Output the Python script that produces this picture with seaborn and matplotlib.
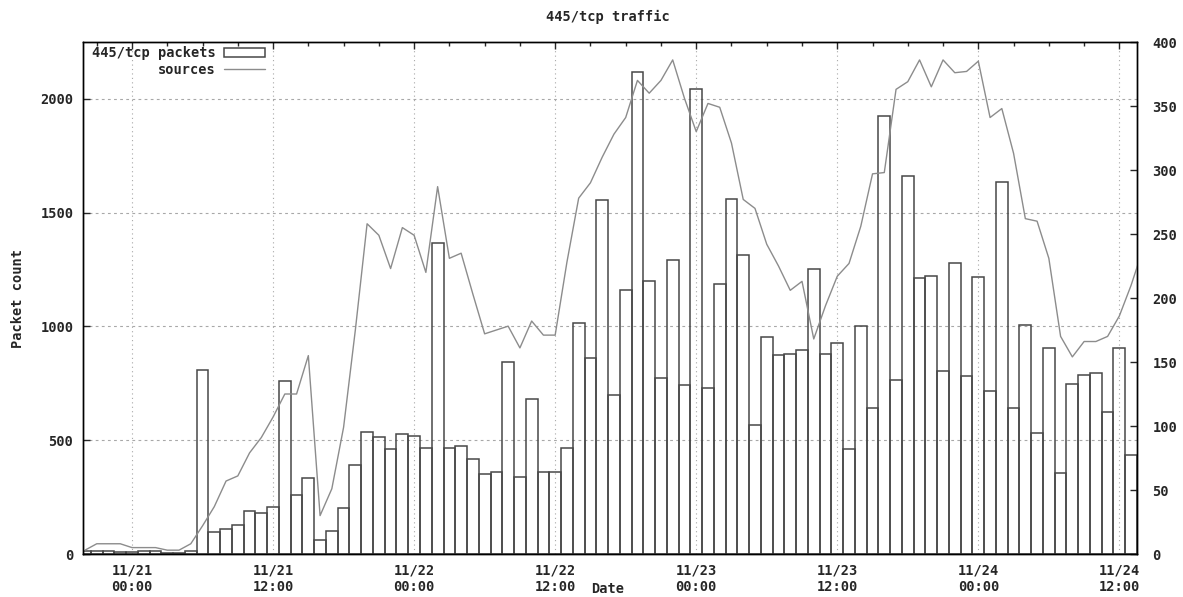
import matplotlib
matplotlib.use("Agg")
import matplotlib.pyplot as plt
from matplotlib.patches import Patch
from matplotlib.lines import Line2D
from matplotlib.ticker import MultipleLocator
import seaborn as sns

# Hours counted from 11/21 00:00
packet_hours = list(range(-4, 86))
packets = [15, 15, 15, 10, 10, 15, 15, 5, 5, 15,
           809, 95, 108, 127, 187, 182, 206, 762, 259, 333,
           63, 103, 203, 389, 536, 514, 463, 527, 520, 468,
           1365, 468, 473, 416, 352, 362, 844, 338, 682, 362,
           359, 468, 1016, 860, 1555, 698, 1158, 2116, 1198, 773,
           1293, 741, 2044, 730, 1187, 1558, 1314, 568, 952, 873,
           881, 897, 1251, 881, 928, 463, 1000, 640, 1923, 765,
           1662, 1214, 1222, 806, 1281, 781, 1219, 717, 1635, 643,
           1008, 532, 905, 357, 749, 786, 797, 624, 905, 436]

source_hours = list(range(-4, 87))
sources = [3, 8, 8, 8, 5, 5, 5, 3, 3, 8,
           22, 37, 57, 61, 79, 91, 107, 125, 125, 155,
           30, 51, 99, 175, 258, 249, 223, 255, 249, 220,
           287, 231, 235, 203, 172, 175, 178, 161, 182, 171,
           171, 228, 278, 290, 310, 328, 341, 370, 360, 370,
           386, 356, 330, 352, 349, 321, 277, 270, 242, 225,
           206, 213, 168, 194, 217, 227, 256, 297, 298, 363,
           369, 386, 365, 386, 376, 377, 385, 341, 348, 313,
           262, 260, 231, 170, 154, 166, 166, 170, 186, 210, 238]

tick_hours = [0, 12, 24, 36, 48, 60, 72, 84]
tick_labels = ["11/21\n00:00", "11/21\n12:00", "11/22\n00:00", "11/22\n12:00",
               "11/23\n00:00", "11/23\n12:00", "11/24\n00:00", "11/24\n12:00"]

sns.set_style("white")
plt.rcParams["font.family"] = ["DejaVu Sans Mono"]
plt.rcParams["font.weight"] = "bold"
plt.rcParams["font.size"] = 9.8

bar_color = "#484848"
line_color = "#8c8c8c"
grid_color = "#a8a8a8"

W, H = 1183, 597
fig = plt.figure(figsize=(W / 100, H / 100), dpi=100)
left, right, top, bottom = 83, 1137, 42, 554
ax = fig.add_axes([left / W, 1 - bottom / H, (right - left) / W, (bottom - top) / H])

sns.histplot(x=packet_hours, weights=packets, discrete=True, fill=False,
             color=bar_color, linewidth=1.1, ax=ax)

ax.set_xlim(-4.17, 85.5)
ax.set_ylim(0, 2250)
ax.set_xticks(tick_hours)
ax.set_xticklabels(tick_labels)
ax.xaxis.set_minor_locator(MultipleLocator(3))
ax.set_yticks([0, 500, 1000, 1500, 2000])
ax.grid(True, which="major", axis="x", color=grid_color, linestyle=(0, (1, 3)), linewidth=0.8)
ax.grid(True, which="major", axis="y", color=grid_color, linestyle=(0, (2.5, 3)), linewidth=0.8)
ax.tick_params(axis="x", which="both", direction="in", top=True, pad=7)
ax.tick_params(axis="x", which="major", length=5, width=1)
ax.tick_params(axis="x", which="minor", length=3, width=1)
ax.tick_params(axis="y", which="major", direction="in", length=5, width=1, pad=7)
ax.set_xlabel("")
ax.set_ylabel("")
for s in ax.spines.values():
    s.set_color("black")
    s.set_linewidth(1)

ax2 = ax.twinx()
sns.lineplot(x=source_hours, y=sources, color=line_color, linewidth=1, ax=ax2)
ax2.set_ylim(0, 400)
ax2.set_yticks([0, 50, 100, 150, 200, 250, 300, 350, 400])
ax2.tick_params(axis="y", direction="in", length=5, width=1, pad=11)
ax2.set_ylabel("")
for s in ax2.spines.values():
    s.set_color("black")
    s.set_linewidth(1)

handles = [Patch(facecolor="none", edgecolor=bar_color, linewidth=1.1),
           Line2D([0], [0], color=line_color, linewidth=1)]
ax2.legend(handles, ["445/tcp packets", "sources"], loc="upper right",
           bbox_to_anchor=((265 - left) / (right - left), 1 - 4 / (bottom - top)),
           frameon=False, markerfirst=False, handlelength=3.0, handleheight=0.6,
           handletextpad=0.6, labelspacing=0.2, borderpad=0, borderaxespad=0)

fig.text(608 / W, 1 - 17 / H, "445/tcp traffic", ha="center", va="center")
fig.text(18 / W, 1 - 299 / H, "Packet count", ha="center", va="center", rotation=90)
fig.text(608 / W, 1 - 589 / H, "Date", ha="center", va="center")

fig.savefig("out.png", dpi=100)
